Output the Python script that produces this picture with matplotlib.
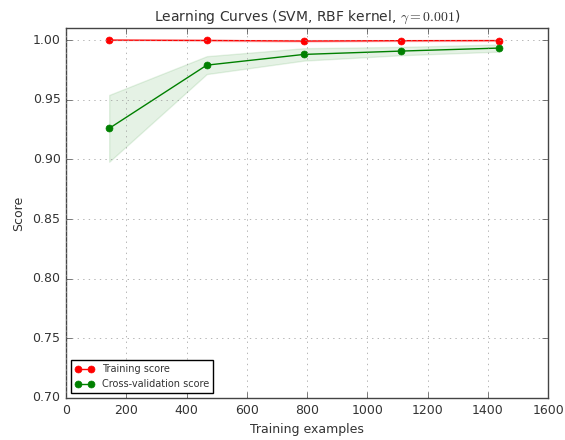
import matplotlib
matplotlib.use("Agg")
import matplotlib.pyplot as plt
import numpy as np

plt.style.use("classic")

train_sizes = [143, 467, 790, 1113, 1437]
train_mean = [1.0, 0.9997, 0.9992, 0.9995, 0.9996]
train_std = [0.0, 0.0005, 0.0008, 0.0005, 0.0004]
test_mean = [0.926, 0.979, 0.988, 0.9908, 0.9933]
test_std = [0.028, 0.0075, 0.0052, 0.0035, 0.003]

tm = np.array(train_mean); ts = np.array(train_std)
vm = np.array(test_mean); vs = np.array(test_std)

txt = "#333333"
fig = plt.figure(figsize=(5.65, 4.4), dpi=100)
ax = fig.add_axes([0.117, 0.0955, 0.853, 0.8405])
ax.fill_between(train_sizes, tm - ts, tm + ts, alpha=0.1, color="r")
ax.fill_between(train_sizes, vm - vs, vm + vs, alpha=0.1, color="g")
ax.plot(train_sizes, tm, 'o-', color="r", label="Training score", markersize=5, markeredgecolor="r")
ax.plot(train_sizes, vm, 'o-', color="g", label="Cross-validation score", markersize=5, markeredgecolor="g")
ax.set_ylim(0.7, 1.01)
ax.set_xlim(0, 1600)
ax.grid(True, color="#999999")
for s in ax.spines.values():
    s.set_edgecolor("#444444")
ax.set_title(r"Learning Curves (SVM, RBF kernel, $\gamma=0.001$)", fontsize=10, color=txt)
ax.set_xlabel("Training examples", fontsize=9, color=txt)
ax.set_ylabel("Score", fontsize=9, color=txt)
ax.tick_params(labelsize=9, labelcolor=txt, color="#444444")
leg = ax.legend(loc="best", fontsize=7)
for t in leg.get_texts():
    t.set_color(txt)
fig.savefig("out.png", dpi=100)
